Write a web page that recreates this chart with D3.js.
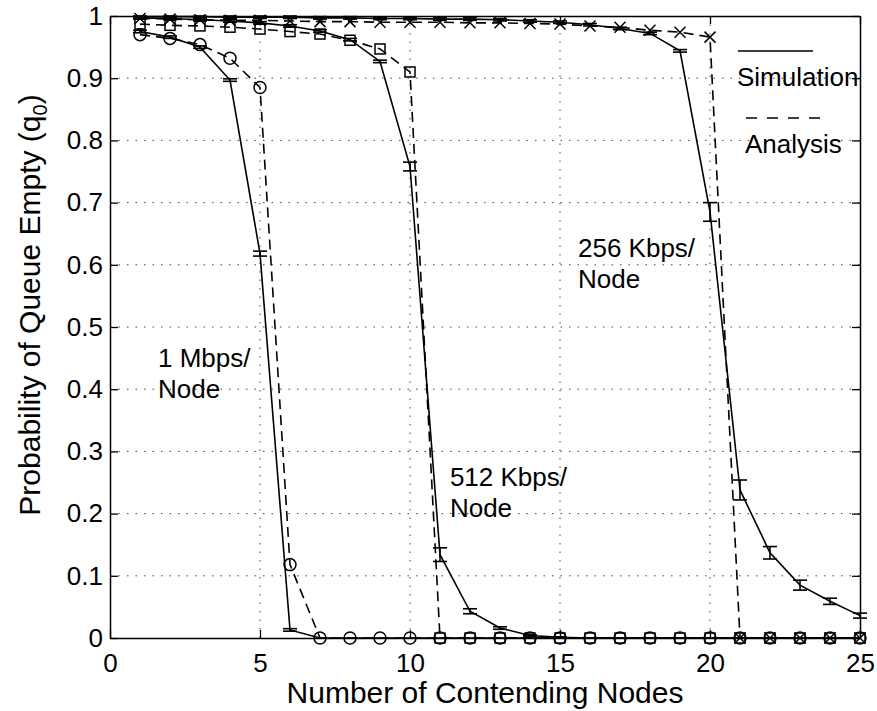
<!DOCTYPE html>
<html>
<head>
<meta charset="utf-8">
<script src="https://d3js.org/d3.v7.min.js"></script>
<style>
  body { margin: 0; background: #fff; }
  svg { font-family: "Liberation Sans", Arial, Helvetica, sans-serif; }
</style>
</head>
<body>
<svg id="chart" width="877" height="711"></svg>
<script>
// number of contending nodes
var nodes = [1, 2, 3, 4, 5, 6, 7, 8, 9, 10, 11, 12, 13, 14, 15, 16, 17, 18, 19, 20, 21, 22, 23, 24, 25];

// 1 Mbps / node
var sim1M = [0.975, 0.966, 0.950, 0.897, 0.618, 0.013, 0, 0, 0, 0, 0, 0, 0, 0, 0, 0, 0, 0, 0, 0, 0, 0, 0, 0, 0];
var err1M = [0.002, 0.002, 0.002, 0.002, 0.004, 0.002, 0, 0, 0, 0, 0, 0, 0, 0, 0, 0, 0, 0, 0, 0, 0, 0, 0, 0, 0];
var ana1M = [0.970, 0.964, 0.954, 0.932, 0.885, 0.118, 0, 0, 0, 0, 0, 0, 0, 0, 0, 0, 0, 0, 0, 0, 0, 0, 0, 0, 0];

// 512 Kbps / node
var sim512 = [0.997, 0.996, 0.994, 0.992, 0.989, 0.984, 0.976, 0.962, 0.927, 0.758, 0.134, 0.043, 0.016, 0.004, 0.001, 0, 0, 0, 0, 0, 0, 0, 0, 0, 0];
var err512 = [0.002, 0.002, 0.002, 0.002, 0.002, 0.002, 0.002, 0.002, 0.002, 0.007, 0.011, 0.004, 0.002, 0.001, 0.001, 0, 0, 0, 0, 0, 0, 0, 0, 0, 0];
var ana512 = [0.987, 0.985, 0.984, 0.982, 0.979, 0.975, 0.971, 0.961, 0.947, 0.910, 0, 0, 0, 0, 0, 0, 0, 0, 0, 0, 0, 0, 0, 0, 0];

// 256 Kbps / node
var sim256 = [0.999, 0.999, 0.999, 0.998, 0.998, 0.998, 0.997, 0.997, 0.996, 0.996, 0.995, 0.995, 0.994, 0.992, 0.990, 0.986, 0.980, 0.972, 0.944, 0.685, 0.238, 0.137, 0.085, 0.059, 0.036];
var err256 = [0.002, 0.002, 0.002, 0.002, 0.002, 0.002, 0.002, 0.002, 0.002, 0.002, 0.002, 0.002, 0.002, 0.002, 0.002, 0.002, 0.002, 0.002, 0.002, 0.015, 0.016, 0.010, 0.008, 0.005, 0.004];
var ana256 = [0.996, 0.995, 0.994, 0.993, 0.993, 0.992, 0.991, 0.991, 0.990, 0.990, 0.990, 0.989, 0.989, 0.988, 0.987, 0.984, 0.982, 0.977, 0.974, 0.966, 0, 0, 0, 0, 0];

var xTicks = [0, 5, 10, 15, 20, 25];
var xTickLabels = ["0", "5", "10", "15", "20", "25"];
var yTicks = [0, 0.1, 0.2, 0.3, 0.4, 0.5, 0.6, 0.7, 0.8, 0.9, 1];
var yTickLabels = ["0", "0.1", "0.2", "0.3", "0.4", "0.5", "0.6", "0.7", "0.8", "0.9", "1"];

var margin = {top: 16, right: 17, bottom: 73, left: 110},
    width = 877 - margin.left - margin.right,
    height = 711 - margin.top - margin.bottom;

var svg = d3.select("#chart");
var g = svg.append("g")
    .attr("transform", "translate(" + margin.left + "," + margin.top + ")");

var x = d3.scaleLinear().domain([0, 25]).range([0, width]);
var y = d3.scaleLinear().domain([0, 1]).range([height, 0]);

// dotted grid
g.append("g").selectAll("line").data(xTicks.slice(1, -1))
    .enter().append("line")
    .attr("x1", function(d) { return x(d); })
    .attr("x2", function(d) { return x(d); })
    .attr("y1", 0).attr("y2", height)
    .attr("stroke", "#444").attr("stroke-width", 1)
    .attr("stroke-dasharray", "1.5,7");
g.append("g").selectAll("line").data(yTicks.slice(1, -1))
    .enter().append("line")
    .attr("y1", function(d) { return y(d); })
    .attr("y2", function(d) { return y(d); })
    .attr("x1", 0).attr("x2", width)
    .attr("stroke", "#444").attr("stroke-width", 1)
    .attr("stroke-dasharray", "1.5,7");

var line = function(vals) {
    return d3.line()
        .x(function(d, i) { return x(nodes[i]); })
        .y(function(d) { return y(d); })(vals);
};

// simulation curves (solid) with error bars
[[sim1M, err1M], [sim512, err512], [sim256, err256]].forEach(function(s) {
    g.append("path")
        .attr("d", line(s[0]))
        .attr("fill", "none").attr("stroke", "#000").attr("stroke-width", 1.6);

    var eb = g.append("g").selectAll("g")
        .data(s[0].map(function(v, i) { return {n: nodes[i], v: v, e: s[1][i]}; })
            .filter(function(d) { return d.v > 0; }))
        .enter().append("g")
        .attr("stroke", "#000").attr("stroke-width", 1.6);
    eb.append("line")
        .attr("x1", function(d) { return x(d.n); })
        .attr("x2", function(d) { return x(d.n); })
        .attr("y1", function(d) { return y(d.v - d.e); })
        .attr("y2", function(d) { return y(Math.min(1, d.v + d.e)); });
    eb.append("line")
        .attr("x1", function(d) { return x(d.n) - 7; })
        .attr("x2", function(d) { return x(d.n) + 7; })
        .attr("y1", function(d) { return y(d.v - d.e); })
        .attr("y2", function(d) { return y(d.v - d.e); });
    eb.append("line")
        .attr("x1", function(d) { return x(d.n) - 7; })
        .attr("x2", function(d) { return x(d.n) + 7; })
        .attr("y1", function(d) { return y(Math.min(1, d.v + d.e)); })
        .attr("y2", function(d) { return y(Math.min(1, d.v + d.e)); });
});

// analysis curves (dashed) with markers
[ana1M, ana512, ana256].forEach(function(vals) {
    g.append("path")
        .attr("d", line(vals))
        .attr("fill", "none").attr("stroke", "#000").attr("stroke-width", 1.6)
        .attr("stroke-dasharray", "10,6");
});

g.append("g").selectAll("circle").data(ana1M)
    .enter().append("circle")
    .attr("cx", function(d, i) { return x(nodes[i]); })
    .attr("cy", function(d) { return y(d); })
    .attr("r", 6)
    .attr("fill", "none").attr("stroke", "#000").attr("stroke-width", 1.5);

g.append("g").selectAll("rect").data(ana512)
    .enter().append("rect")
    .attr("x", function(d, i) { return x(nodes[i]) - 5; })
    .attr("y", function(d) { return y(d) - 5; })
    .attr("width", 10).attr("height", 10)
    .attr("fill", "none").attr("stroke", "#000").attr("stroke-width", 1.5);

g.append("g").selectAll("path").data(ana256)
    .enter().append("path")
    .attr("d", function(d, i) {
        var cx = x(nodes[i]), cy = y(d), r = 5.5;
        return "M" + (cx - r) + "," + (cy - r) + "L" + (cx + r) + "," + (cy + r) +
               "M" + (cx - r) + "," + (cy + r) + "L" + (cx + r) + "," + (cy - r);
    })
    .attr("fill", "none").attr("stroke", "#000").attr("stroke-width", 1.5);

// axes (ticks inside, box on)
g.append("g")
    .attr("transform", "translate(0," + height + ")")
    .call(d3.axisBottom(x).tickValues(xTicks).tickSizeInner(-8).tickSizeOuter(0).tickPadding(16)
        .tickFormat(function(d, i) { return xTickLabels[i]; }));
g.append("g")
    .call(d3.axisLeft(y).tickValues(yTicks).tickSizeInner(-8).tickSizeOuter(0).tickPadding(7)
        .tickFormat(function(d, i) { return yTickLabels[i]; }));
g.append("g")
    .call(d3.axisTop(x).tickValues(xTicks).tickSizeInner(-8).tickSizeOuter(0).tickFormat(""));
g.append("g")
    .attr("transform", "translate(" + width + ",0)")
    .call(d3.axisRight(y).tickValues(yTicks).tickSizeInner(-8).tickSizeOuter(0).tickFormat(""));

g.selectAll(".domain").attr("stroke", "#000").attr("stroke-width", 1.5);
g.selectAll(".tick line").attr("stroke", "#000").attr("stroke-width", 1.3);
g.selectAll(".tick text").attr("fill", "#000").style("font-size", "26px")
    .style("font-family", "'Liberation Sans', Arial, sans-serif");

// axis titles
svg.append("text")
    .attr("x", margin.left + width / 2).attr("y", 703)
    .attr("text-anchor", "middle")
    .style("font-size", "30px")
    .text("Number of Contending Nodes");

var yt = svg.append("text")
    .attr("transform", "translate(40,305) rotate(-90)")
    .attr("text-anchor", "middle")
    .style("font-size", "30px");
yt.append("tspan").text("Probability of Queue Empty (q");
yt.append("tspan").attr("dy", 7).style("font-size", "20px").text("0");
yt.append("tspan").attr("dy", -7).text(")");

// curve annotations
var notes = [
    {lines: ["1 Mbps/", "Node"], n: 1.6, v: 0.435},
    {lines: ["512 Kbps/", "Node"], n: 11.33, v: 0.245},
    {lines: ["256 Kbps/", "Node"], n: 15.6, v: 0.613}
];
notes.forEach(function(a) {
    var t = g.append("text")
        .attr("x", x(a.n)).attr("y", y(a.v))
        .style("font-size", "26px");
    a.lines.forEach(function(s, i) {
        t.append("tspan").attr("x", x(a.n)).attr("dy", i ? 31 : 0).text(s);
    });
});

// legend
var leg = svg.append("g");
leg.append("line").attr("x1", 738).attr("x2", 813).attr("y1", 51).attr("y2", 51)
    .attr("stroke", "#000").attr("stroke-width", 1.6);
leg.append("text").attr("x", 737).attr("y", 86).style("font-size", "26px").text("Simulation");
leg.append("line").attr("x1", 746).attr("x2", 822).attr("y1", 118).attr("y2", 118)
    .attr("stroke", "#000").attr("stroke-width", 1.6).attr("stroke-dasharray", "11,10");
leg.append("text").attr("x", 745).attr("y", 153).style("font-size", "26px").text("Analysis");
</script>
</body>
</html>
